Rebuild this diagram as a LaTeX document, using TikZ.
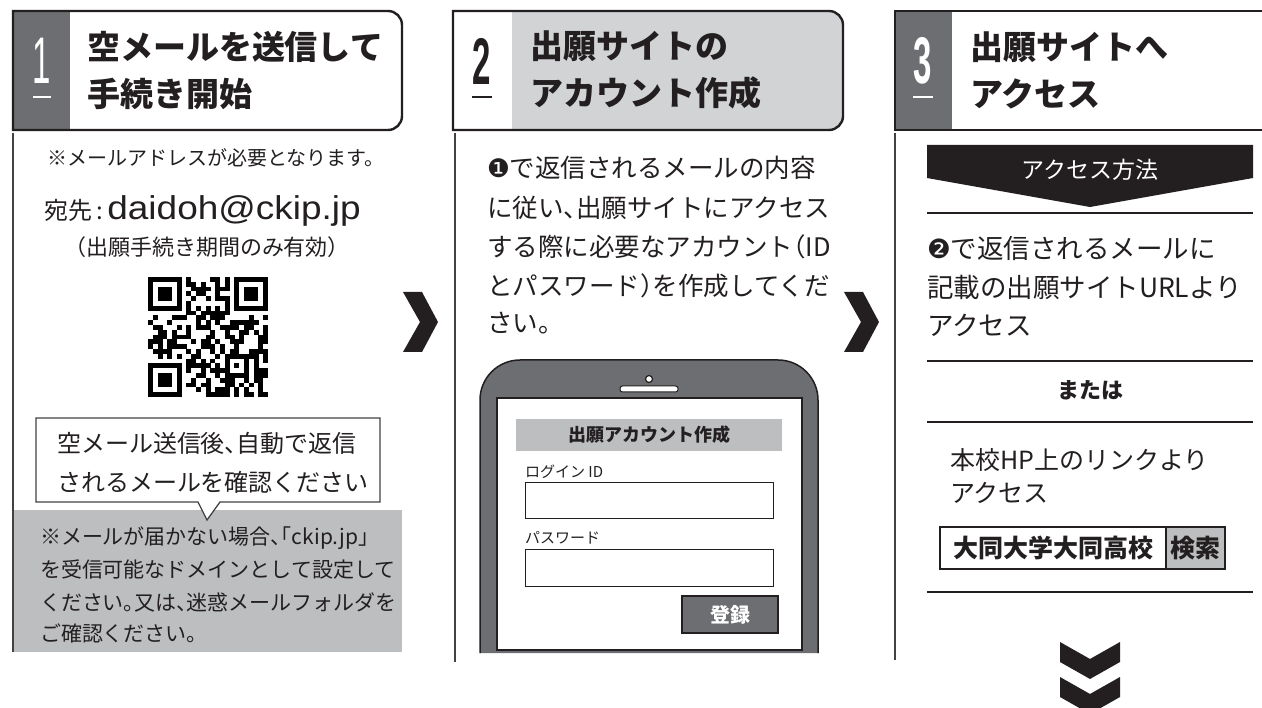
\documentclass[tikz,border=0pt]{standalone}
\usepackage{fontspec}
\setmainfont{Noto Sans CJK JP}
\newfontfamily\lib{Liberation Sans}[FakeStretch=1.12]
\newfontfamily\dv{DejaVu Sans}
\newfontfamily\numf{Liberation Sans}[FakeStretch=0.5]
\newcommand\fsz[1]{\fontsize{#1}{#1}\selectfont}
\newcommand\hl[1]{\makebox[0.5em][l]{#1}}
\newcommand\hr[1]{\makebox[0.5em][r]{#1}}
\definecolor{dgray}{HTML}{6D6E71}
\definecolor{lgray}{HTML}{BCBEC0}
\definecolor{hgray}{HTML}{D1D3D4}
\definecolor{ink}{HTML}{231F20}
\tikzset{
  txt/.style={inner sep=0pt, outer sep=0pt, text=ink, anchor=west},
  txtc/.style={inner sep=0pt, outer sep=0pt, text=ink},
  ttl/.style={inner sep=0pt, outer sep=0pt, text=ink, anchor=west, align=left, font=\fontsize{33}{47}\selectfont\bfseries},
  hdr/.style={line width=2.4pt, draw=ink},
  vln/.style={line width=2pt, draw=ink!85},
  divline/.style={line width=2pt, draw=ink},
  chev/.style={fill=ink},
}
\begin{document}
\begin{tikzpicture}[x=1pt,y=-1pt]
\useasboundingbox (0,0) rectangle (1262,708);
\fill[white] (0,0) rectangle (1262,708);

% ---------- Panel 1 header ----------
\fill[white] (13,11) -- (388,11) arc[start angle=-90,end angle=0,radius=14] -- (402,116) arc[start angle=0,end angle=90,radius=14] -- (13,130) -- cycle;
\fill[dgray] (13,11) rectangle (70,130);
\draw[hdr] (13,11) -- (388,11) arc[start angle=-90,end angle=0,radius=14] -- (402,116) arc[start angle=0,end angle=90,radius=14] -- (13,130) -- cycle;
\node[txtc, text=white] (n1) at (42,61) {\numf\fsz{66}1};
\draw[white, line width=2pt] (33,97) -- (51,97);
\node[ttl] (h1) at (87,71) {空メールを送信して\\手続き開始};

% ---------- Panel 2 header ----------
\fill[hgray] (453,11) -- (829,11) arc[start angle=-90,end angle=0,radius=14] -- (843,116) arc[start angle=0,end angle=90,radius=14] -- (453,130) -- cycle;
\fill[white] (453,11) rectangle (512,130);
\draw[hdr] (453,11) -- (829,11) arc[start angle=-90,end angle=0,radius=14] -- (843,116) arc[start angle=0,end angle=90,radius=14] -- (453,130) -- cycle;
\node[txtc] (n2) at (482,61) {\numf\fsz{66}\bfseries 2};
\draw[ink, line width=2pt] (472,97) -- (492,97);
\node[ttl] (h2) at (530,70) {出願サイトの\\アカウント作成};

% ---------- Panel 3 header ----------
\fill[dgray] (895,11) rectangle (952,130);
\draw[hdr] (1275,11) -- (895,11) -- (895,130) -- (1275,130);
\node[txtc, text=white] (n3) at (923,61) {\numf\fsz{66}\bfseries 3};
\draw[white, line width=2pt] (913,97) -- (933,97);
\node[ttl] (h3) at (970,70) {出願サイトへ\\アクセス};

% ---------- Panel 1 body ----------
\fill[lgray] (13,510) rectangle (402,652);
\draw[vln] (13,133) -- (13,652);
\node[txtc] (need) at (216,158) {\fsz{20}※メールアドレスが必要となります。};
\node[txt, anchor=base west] (addr) at (45,220) {{\fsz{24}宛先\makebox[0.6em]{:}}{\lib\fsz{33}daidoh@ckip.jp}};
\node[txtc] (valid) at (207,247) {\fsz{22}（出願手続き期間のみ有効）};

% QR code
\pgfmathsetseed{4711}
\foreach \r in {0,...,24}{
  \foreach \c in {0,...,24}{
    \pgfmathtruncatemacro\bit{rnd<0.56 ? 1 : 0}
    \pgfmathtruncatemacro\skip{((\r<8 && \c<8) || (\r<8 && \c>16) || (\r>16 && \c<8) || (\r>15 && \r<21 && \c>15 && \c<21) || \r==6 || \c==6) ? 1 : 0}
    \ifnum\skip=0
      \ifnum\bit=1
        \fill[black] ({148+\c*4.8},{277+\r*4.8}) rectangle ++(4.9,4.9);
      \fi
    \fi
  }
}
\foreach \c in {8,10,...,16}{
  \fill[black] ({148+\c*4.8},{277+6*4.8}) rectangle ++(4.9,4.9);
  \fill[black] ({148+6*4.8},{277+\c*4.8}) rectangle ++(4.9,4.9);
}
\foreach \cx/\cy in {0/0,18/0,0/18}{
  \fill[black] ({148+\cx*4.8},{277+\cy*4.8}) rectangle ++(33.6,33.6);
  \fill[white] ({148+(\cx+1)*4.8},{277+(\cy+1)*4.8}) rectangle ++(24,24);
  \fill[black] ({148+(\cx+2)*4.8},{277+(\cy+2)*4.8}) rectangle ++(14.4,14.4);
}
\fill[black] ({148+16*4.8},{277+16*4.8}) rectangle ++(24,24);
\fill[white] ({148+17*4.8},{277+17*4.8}) rectangle ++(14.4,14.4);
\fill[black] ({148+18*4.8},{277+18*4.8}) rectangle ++(4.8,4.8);

% speech bubble
\draw[fill=white, draw=ink!85, line width=1.3pt] (36,418) -- (380,418) -- (380,502) -- (220,502) -- (207,520) -- (198,502) -- (36,502) -- cycle;
\node[txt] (b1) at (57,443) {\fsz{24}空メール送信後\hl{、}自動で返信};
\node[txt] (b2) at (57,482) {\fsz{24}されるメールを確認ください};

\node[txt] (g1) at (40,538) {\fsz{21}※メールが届かない場合\hl{、}\hr{「}ckip.jp」};
\node[txt] (g2) at (40,570) {\fsz{21}を受信可能なドメインとして設定して};
\node[txt] (g3) at (40,602) {\fsz{21}ください\hl{。}又は\hl{、}迷惑メールフォルダを};
\node[txt] (g4) at (40,633) {\fsz{21}ご確認ください\hl{。}};

% ---------- chevrons ----------
\fill[chev] (403,292) -- (422,292) -- (438,322) -- (422,352) -- (403,352) -- (420,322) -- cycle;
\fill[chev] (844,292) -- (863,292) -- (879,322) -- (863,352) -- (844,352) -- (861,322) -- cycle;

% ---------- Panel 2 body ----------
\draw[vln] (455,133) -- (455,662);
\node[txt] (p1) at (487,168) {\fsz{25.5}{\dv ❶}で返信されるメールの内容};
\node[txt] (p2) at (487,208) {\fsz{25.5}に従い\hl{、}出願サイトにアクセス};
\node[txt] (p3) at (487,247) {\fsz{25.5}する際に必要なアカウント\hr{（}ID};
\node[txt] (p4) at (487,286) {\fsz{25.5}とパスワード\hl{）}を作成してくだ};
\node[txt] (p5) at (487,323) {\fsz{25.5}さい。};

% phone
\fill[dgray] (480,653) -- (480,400) arc[start angle=180,end angle=270,radius=40] -- (778,360) arc[start angle=-90,end angle=0,radius=40] -- (818,653) -- cycle;
\draw[ink, line width=1.5pt] (480,653) -- (480,400) arc[start angle=180,end angle=270,radius=40] -- (778,360) arc[start angle=-90,end angle=0,radius=40] -- (818,653);
\draw[fill=white, draw=ink, line width=1.2pt] (649,379) circle[radius=3.5];
\draw[fill=white, draw=ink, line width=1pt, rounded corners=2.5pt] (620,386) rectangle (678,392);
\draw[fill=white, draw=ink, line width=2.5pt] (497,398) rectangle (802,650);
\fill[lgray] (516,419) rectangle (782,451);
\node[txtc] (ttlbar) at (649,435) {\fsz{18}\bfseries 出願アカウント作成};
\node[txt] (lid) at (525,472) {\fsz{15}ログイン ID};
\draw[ink, line width=1pt, fill=white] (525,483) rectangle (773,519);
\node[txt] (lpw) at (525,538) {\fsz{15}パスワード};
\draw[ink, line width=1pt, fill=white] (525,550) rectangle (773,586);
\draw[fill=dgray, draw=ink, line width=1.2pt] (682,596) rectangle (778,633);
\node[txtc, text=white] (reg) at (730,614.5) {\fsz{20}\bfseries 登録};

% ---------- Panel 3 body ----------
\draw[vln] (895,133) -- (895,660);
\fill[ink] (927,145) -- (1253,145) -- (1253,178) -- (1090,207) -- (927,178) -- cycle;
\node[txtc, text=white] (how) at (1090,170) {\fsz{23}アクセス方法};
\draw[divline] (927,213) -- (1253,213);
\node[txt] (q1) at (927,248) {\fsz{26.5}{\dv ❷}で返信されるメールに};
\node[txt] (q2) at (927,287) {\fsz{26.5}記載の出願サイトURLより};
\node[txt] (q3) at (927,325) {\fsz{26.5}アクセス};
\draw[divline] (927,361) -- (1253,361);
\node[txtc] (or) at (1090,390) {\fsz{22}\bfseries または};
\draw[divline] (927,422) -- (1253,422);
\node[txt] (r1) at (950,460) {\fsz{25}本校HP上のリンクより};
\node[txt] (r2) at (950,493) {\fsz{25}アクセス};
\fill[lgray] (1166,527) rectangle (1225,569);
\draw[ink, line width=1.5pt] (940,527) rectangle (1225,569);
\draw[ink, line width=1.5pt] (1166,527) -- (1166,569);
\node[txtc] (sch) at (1053,548) {\fsz{25}\bfseries 大同大学大同高校};
\node[txtc] (btn) at (1195.5,548) {\fsz{25}\bfseries 検索};
\draw[divline] (927,592) -- (1253,592);

% down chevrons
\fill[chev] (1060,642) -- (1090,659) -- (1120,642) -- (1120,662) -- (1090,679) -- (1060,662) -- cycle;
\fill[chev] (1060,677) -- (1090,694) -- (1120,677) -- (1120,697) -- (1090,714) -- (1060,697) -- cycle;
\end{tikzpicture}
\end{document}
